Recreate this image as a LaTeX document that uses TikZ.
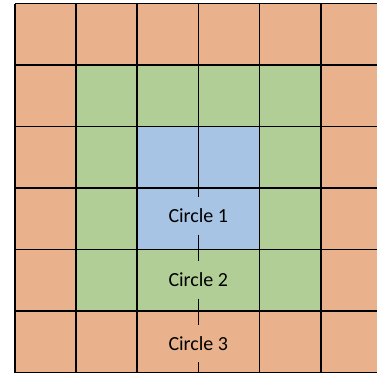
\documentclass[tikz,border=0pt]{standalone}
\usepackage{fontspec}
\setmainfont{Carlito}

\definecolor{ringorange}{RGB}{234,178,140}
\definecolor{ringgreen}{RGB}{178,206,151}
\definecolor{ringblue}{RGB}{167,196,228}

\begin{document}
\begin{tikzpicture}[x=1pt,y=-1pt,
    gridline/.style={black, line width=1.6pt},
    circlelabel/.style={minimum height=37pt, inner sep=0pt, font=\fontsize{20}{24}\selectfont}]

\useasboundingbox (0,0) rectangle (377,376);

% Define the cell size
\def\cell{61.2}

% Coloured rings (outer, middle, inner)
\fill[ringorange] (14.7,3.5) rectangle (377,372.5);
\fill[ringgreen] (14.7+\cell,65) rectangle (14.7+5*\cell,311);
\fill[ringblue] (14.7+2*\cell,126.5) rectangle (14.7+4*\cell,249.5);

% Labels on the middle line
\node[circlelabel] (c1) at (14.7+3*\cell,216) {Circle 1};
\node[circlelabel] (c2) at (14.7+3*\cell,280) {Circle 2};
\node[circlelabel] (c3) at (14.7+3*\cell,343.5) {Circle 3};

% Horizontal grid lines
\draw[gridline] (14.7,3.5) -- (377,3.5);
\draw[gridline] (14.7,65) -- (377,65);
\draw[gridline] (14.7,126.5) -- (377,126.5);
\draw[gridline] (14.7,188) -- (377,188);
\draw[gridline] (14.7,249.5) -- (377,249.5);
\draw[gridline] (14.7,311) -- (377,311);
\draw[gridline] (14.7,372.5) -- (377,372.5);

% Vertical grid lines
\draw[gridline] (14.7,3.5) -- (14.7,372.5);
\draw[gridline] (14.7+\cell,3.5) -- (14.7+\cell,372.5);
\draw[gridline] (14.7+2*\cell,3.5) -- (14.7+2*\cell,372.5);
\draw[gridline] (14.7+4*\cell,3.5) -- (14.7+4*\cell,372.5);
\draw[gridline] (14.7+5*\cell,3.5) -- (14.7+5*\cell,372.5);

% Middle line, broken by the labels
\coordinate (midtop) at (14.7+3*\cell,3.5);
\coordinate (midbottom) at (14.7+3*\cell,372.5);
\draw[gridline] (midtop) -- (c1.north);
\draw[gridline] (c1.south) -- (c2.north);
\draw[gridline] (c2.south) -- (c3.north);
\draw[gridline] (c3.south) -- (midbottom);

\end{tikzpicture}
\end{document}
